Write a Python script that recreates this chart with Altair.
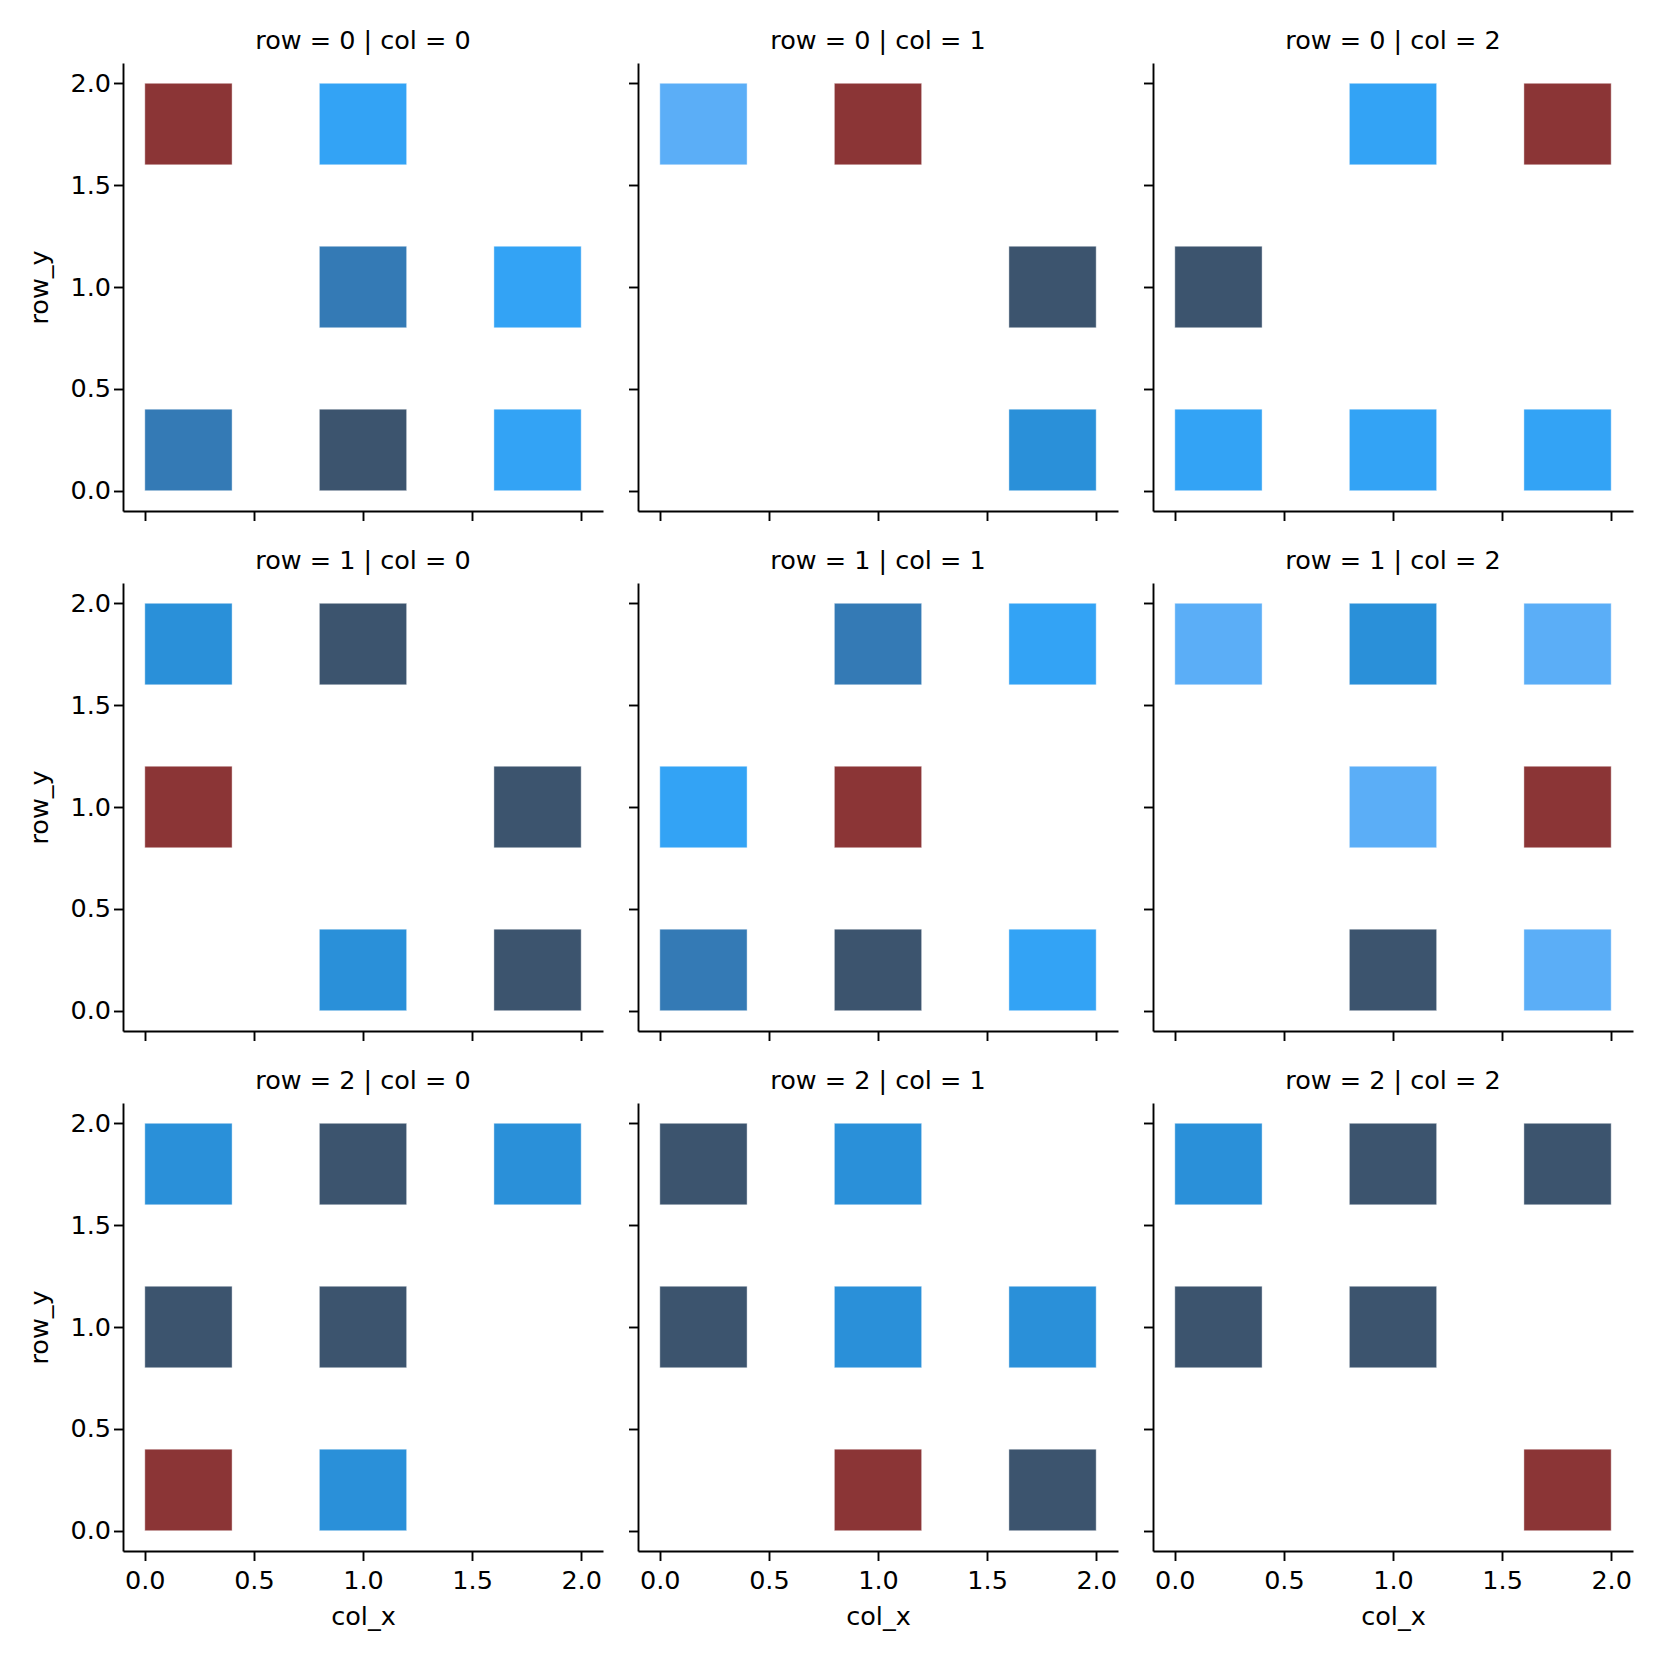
import altair as alt
import pandas as pd

# Colour keys -> hex
COLOR_KEYS = ["R", "B", "L", "M", "S", "D"]
COLOR_HEX = ["#8B3536", "#33A3F5", "#5BAEF7", "#2A90D9", "#347AB5", "#3C546E"]

# Panel data: for each (row, col) panel, lists of col_x, row_y, colour key
panel_rows = [0, 0, 0, 1, 1, 1, 2, 2, 2]
panel_cols = [0, 1, 2, 0, 1, 2, 0, 1, 2]
cells_x = [
    [0, 1, 1, 2, 0, 1, 2],
    [0, 1, 2, 2],
    [1, 2, 0, 0, 1, 2],
    [0, 1, 0, 2, 1, 2],
    [1, 2, 0, 1, 0, 1, 2],
    [0, 1, 2, 1, 2, 1, 2],
    [0, 1, 2, 0, 1, 0, 1],
    [0, 1, 0, 1, 2, 1, 2],
    [0, 1, 2, 0, 1, 2],
]
cells_y = [
    [2, 2, 1, 1, 0, 0, 0],
    [2, 2, 1, 0],
    [2, 2, 1, 0, 0, 0],
    [2, 2, 1, 1, 0, 0],
    [2, 2, 1, 1, 0, 0, 0],
    [2, 2, 2, 1, 1, 0, 0],
    [2, 2, 2, 1, 1, 0, 0],
    [2, 2, 1, 1, 1, 0, 0],
    [2, 2, 2, 1, 1, 0],
]
cells_c = [
    ["R", "B", "S", "B", "S", "D", "B"],
    ["L", "R", "D", "M"],
    ["B", "R", "D", "B", "B", "B"],
    ["M", "D", "R", "D", "M", "D"],
    ["S", "B", "B", "R", "S", "D", "B"],
    ["L", "M", "L", "L", "R", "D", "L"],
    ["M", "D", "M", "D", "D", "R", "M"],
    ["D", "M", "D", "M", "M", "R", "D"],
    ["M", "D", "D", "D", "D", "R"],
]

BIN_WIDTH = 0.4  # histogram bins on [0, 2]

records = []
for i in range(9):
    for xv, yv, ck in zip(cells_x[i], cells_y[i], cells_c[i]):
        records.append({"row": panel_rows[i], "col": panel_cols[i],
                        "col_x": xv, "row_y": yv, "c": ck})
df = pd.DataFrame(records)

FONT = "DejaVu Sans"
FS = 25.5
ticks_vals = [0.0, 0.5, 1.0, 1.5, 2.0]
W, H = 480, 448


def panel(r, c):
    sub = df[(df["row"] == r) & (df["col"] == c)]
    show_x = r == 2
    show_y = c == 0
    common = dict(values=ticks_vals, format=".1f", grid=False,
                  domainColor="black", tickColor="black", domainWidth=1.9,
                  tickWidth=1.9, tickSize=9.5, labelFontSize=FS, titleFontSize=FS,
                  labelFont=FONT, titleFont=FONT, titleFontWeight="normal",
                  labelColor="black", titleColor="black", labelFlush=False)
    xaxis = alt.Axis(labels=show_x, title="col_x" if show_x else None,
                     labelPadding=8, titlePadding=10, **common)
    yaxis = alt.Axis(labels=show_y, title="row_y" if show_y else None,
                     labelPadding=3, titlePadding=17, **common)
    return alt.Chart(sub).transform_calculate(
        x0=f"min(floor(datum.col_x / {BIN_WIDTH}), 4) * {BIN_WIDTH}",
        y0=f"min(floor(datum.row_y / {BIN_WIDTH}), 4) * {BIN_WIDTH}",
    ).transform_calculate(
        x1=f"datum.x0 + {BIN_WIDTH}",
        y1=f"datum.y0 + {BIN_WIDTH}",
    ).mark_rect(stroke="white", strokeWidth=0.8, strokeOpacity=0.5).encode(
        x=alt.X("x0:Q", scale=alt.Scale(domain=[-0.1, 2.1], nice=False, zero=False), axis=xaxis),
        x2="x1:Q",
        y=alt.Y("y0:Q", scale=alt.Scale(domain=[-0.1, 2.1], nice=False, zero=False), axis=yaxis),
        y2="y1:Q",
        color=alt.Color("c:N", scale=alt.Scale(domain=COLOR_KEYS, range=COLOR_HEX), legend=None),
    ).properties(
        width=W, height=H,
        title=alt.TitleParams(f"row = {r} | col = {c}", fontSize=FS, font=FONT,
                              fontWeight="normal", color="black", anchor="middle", offset=9),
    )


rows = [alt.hconcat(*[panel(r, c) for c in range(3)], spacing=24) for r in range(3)]
chart = alt.vconcat(*rows, spacing=26).properties(
    padding={"left": 19, "top": 20, "right": 5, "bottom": 5}
).configure(background="white").configure_view(strokeWidth=0, stroke="transparent")

chart.save("out.html", embed_options={"renderer": "svg", "actions": False})
